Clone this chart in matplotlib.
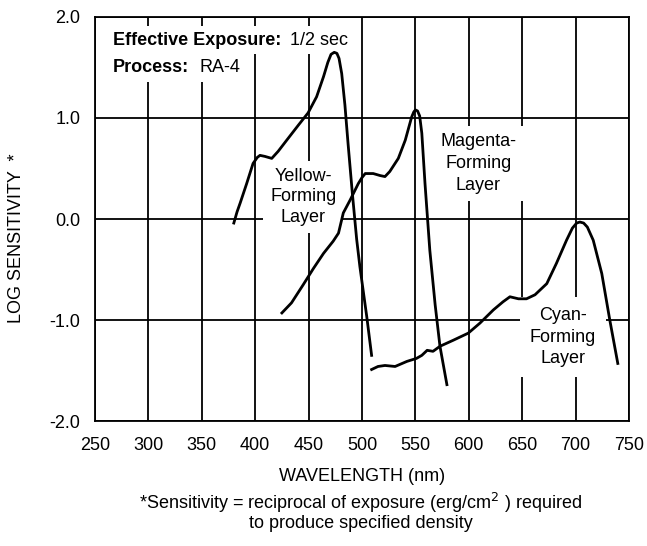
import matplotlib
matplotlib.use('Agg')
import matplotlib.pyplot as plt

plt.rcParams['font.family'] = ['Liberation Sans', 'DejaVu Sans']

# curves: wavelength (nm), log sensitivity
yellow_nm = [380, 383, 386, 392, 398, 402, 404.5, 409, 415.5, 421.5, 429.5, 440.5, 449.5,
             457.5, 464, 468, 471, 474, 476.5, 478.5, 481, 484, 487, 491, 495, 498, 504.5, 509]
yellow_val = [-0.04, 0.07, 0.16, 0.35, 0.55, 0.61, 0.63, 0.62, 0.60, 0.67, 0.78, 0.93, 1.05,
              1.21, 1.41, 1.55, 1.63, 1.65, 1.64, 1.59, 1.44, 1.13, 0.74, 0.25, -0.20, -0.47,
              -0.97, -1.35]

magenta_nm = [425, 434, 445, 454.5, 464, 473, 478, 482.5, 489, 496.5, 500, 503, 510.5, 517,
              521.5, 526, 534, 540.5, 546.5, 548.5, 550, 552, 554, 556, 559, 563.5, 568.5,
              573, 579.5]
magenta_val = [-0.93, -0.83, -0.65, -0.49, -0.34, -0.22, -0.14, 0.06, 0.19, 0.35, 0.41,
               0.45, 0.45, 0.43, 0.42, 0.47, 0.60, 0.78, 1.01, 1.06, 1.08, 1.07, 1.02, 0.85,
               0.35, -0.31, -0.85, -1.26, -1.64]

cyan_nm = [509, 515, 521.5, 531, 542, 551, 556, 561, 566.5, 573, 585.5, 599.5, 610.5, 623,
           632, 638.5, 646.5, 654, 662, 673, 682, 691.5, 697, 701, 704, 707.5, 711, 716.5,
           724.5, 732, 739.5]
cyan_val = [-1.49, -1.46, -1.45, -1.46, -1.41, -1.38, -1.35, -1.30, -1.31, -1.26, -1.20,
            -1.13, -1.03, -0.90, -0.82, -0.77, -0.79, -0.79, -0.75, -0.64, -0.44, -0.21,
            -0.09, -0.04, -0.03, -0.04, -0.08, -0.21, -0.54, -1.00, -1.43]

x_ticks = [250, 300, 350, 400, 450, 500, 550, 600, 650, 700, 750]
y_ticks = [-2.0, -1.0, 0.0, 1.0, 2.0]

fs = 13

fig = plt.figure(figsize=(6.47, 5.46), dpi=100)
ax = fig.add_axes([0.1468, 0.2289, 0.8254, 0.740])

ax.set_xlim(250, 750)
ax.set_ylim(-2, 2)
ax.set_xticks(x_ticks)
ax.set_yticks(y_ticks)
ax.set_yticklabels([f'{v:.1f}' for v in y_ticks])
ax.tick_params(length=0, labelsize=fs)
ax.tick_params(axis='y', pad=10.5)
ax.tick_params(axis='x', pad=11.5)
ax.grid(True, color='black', linewidth=1.3, zorder=1)
ax.set_axisbelow(True)
for s in ax.spines.values():
    s.set_linewidth(1.3)

for nm, val in [(yellow_nm, yellow_val), (magenta_nm, magenta_val), (cyan_nm, cyan_val)]:
    ax.plot(nm, val, color='black', linewidth=2.0, solid_joinstyle='round', zorder=4)

box = dict(facecolor='white', edgecolor='none', pad=4)
ax.text(266.9, 1.77, 'Effective Exposure:', fontweight='bold', fontsize=fs,
        va='center', ha='left', bbox=box, zorder=3)
ax.text(432.6, 1.77, '1/2 sec', fontsize=fs, va='center', ha='left', bbox=box, zorder=3)
ax.text(266.9, 1.495, 'Process:', fontweight='bold', fontsize=fs,
        va='center', ha='left', bbox=box, zorder=3)
ax.text(348.3, 1.495, 'RA-4', fontsize=fs, va='center', ha='left', bbox=box, zorder=3)

label_box = dict(facecolor='white', edgecolor='none', pad=5)
ax.text(445, 0.22, 'Yellow-\nForming\nLayer', fontsize=fs, ha='center', va='center',
        linespacing=1.26, bbox=label_box, zorder=3)
ax.text(609, 0.55, 'Magenta-\nForming\nLayer', fontsize=fs, ha='center', va='center',
        linespacing=1.37, bbox=label_box, zorder=3)
ax.text(688, -1.17, 'Cyan-\nForming\nLayer', fontsize=fs, ha='center', va='center',
        linespacing=1.36, bbox=dict(facecolor='white', edgecolor='none', pad=7), zorder=3)

ax.set_xlabel('WAVELENGTH (nm)', fontsize=fs, labelpad=10)
ax.set_ylabel('LOG SENSITIVITY  *', fontsize=fs)
ax.yaxis.set_label_coords(-0.131, 0.453)

fig.text(0.557, 0.063, '*Sensitivity = reciprocal of exposure (erg/cm$^{2}$ ) required\n'
         'to produce specified density', ha='center', va='center', fontsize=fs,
         linespacing=1.05)

fig.savefig('out.png', dpi=100)
